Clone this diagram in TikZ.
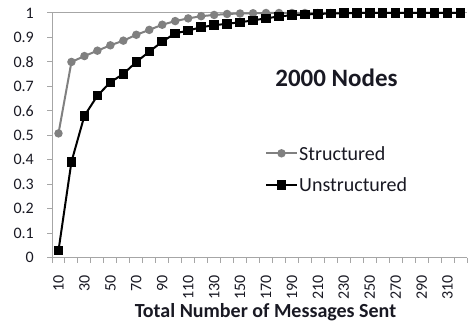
\documentclass[tikz,border=0pt]{standalone}
\usepackage{fontspec}
\setmainfont{Carlito}
\definecolor{axisgray}{RGB}{166,166,166}
\definecolor{sgray}{RGB}{128,128,128}
\definecolor{labelink}{RGB}{25,25,35}
\begin{document}
\begin{tikzpicture}[x=1pt,y=1pt,
  axisline/.style={draw=axisgray,line width=1pt},
  ticklabel/.style={font=\fontsize{16}{16}\selectfont,text=labelink,inner sep=0pt},
  legendtext/.style={font=\fontsize{20}{20}\selectfont,text=labelink,inner sep=0pt,anchor=west},
  sline/.style={draw=sgray,line width=2pt,line join=round},
  uline/.style={draw=black,line width=2pt,line join=round},
  smark/.style={fill=sgray,circle,inner sep=0pt,minimum size=8.5pt},
  umark/.style={fill=black,inner sep=0pt,minimum size=9.5pt},
]
\useasboundingbox (0,0) rectangle (468,322);
% plot area: origin, category width, height of one unit
\pgfmathsetmacro{\xo}{52}
\pgfmathsetmacro{\yo}{64.3}
\pgfmathsetmacro{\cw}{12.97}
\pgfmathsetmacro{\yu}{244.7}
\pgfmathsetmacro{\xend}{\xo+32*\cw}

% top gridline at 1
\draw[axisline] (\xo,\yo+\yu) -- (\xend,\yo+\yu);
% y axis with ticks and labels
\draw[axisline] (\xo,\yo) -- (\xo,\yo+\yu);
\foreach \k in {0,...,10} {
  \draw[axisline] (\xo-5,\yo+\k*\yu/10) -- (\xo,\yo+\k*\yu/10);
  \node[ticklabel,anchor=east] (yl\k) at (34,\yo+\k*\yu/10)
    {\ifnum\k=0 0\else\ifnum\k=10 1\else 0.\k\fi\fi};
}
% x axis with ticks and labels
\draw[axisline] (\xo,\yo) -- (\xend,\yo);
\foreach \k in {0,...,32} {
  \draw[axisline] (\xo+\k*\cw,\yo) -- (\xo+\k*\cw,\yo-5);
}
\foreach \k in {1,3,...,31} {
  \pgfmathtruncatemacro{\lab}{10*\k}
  \node[ticklabel,rotate=90,anchor=east] (xl\k) at (\xo+\k*\cw-0.5*\cw,47) {\lab};
}
\node[font=\bfseries\fontsize{20}{20}\selectfont,text=labelink,inner sep=0pt] (xtitle) at (265.5,10) {Total Number of Messages Sent};

% Structured series
\foreach \v [count=\i] in {0.508,0.800,0.824,0.846,0.868,0.887,0.911,0.931,0.952,0.967,
  0.978,0.987,0.992,0.996,0.998,0.999,1,1,1,1,1,1,1,1,1,1,1,1,1,1,1,1} {
  \coordinate (s\i) at ({\xo+(\i-0.5)*\cw},{\yo+\v*\yu});
}
\draw[sline] (s1) \foreach \i in {2,...,32} { -- (s\i) };
\foreach \i in {1,...,32} { \node[smark] (sm\i) at (s\i) {}; }

% Unstructured series
\foreach \v [count=\i] in {0.029,0.392,0.580,0.662,0.717,0.751,0.800,0.842,0.883,0.917,
  0.928,0.942,0.950,0.956,0.962,0.970,0.978,0.986,0.991,0.994,0.996,0.998,0.999,1,
  1,1,1,1,1,1,1,1} {
  \coordinate (u\i) at ({\xo+(\i-0.5)*\cw},{\yo+\v*\yu});
}
\draw[uline] (u1) \foreach \i in {2,...,32} { -- (u\i) };
\foreach \i in {1,...,32} { \node[umark] (um\i) at (u\i) {}; }

% title inside the plot
\node[font=\bfseries\fontsize{25}{25}\selectfont,text=labelink,inner sep=0pt] (title) at (336.5,244) {2000 Nodes};

% legend
\coordinate (la) at (266,168.7);
\coordinate (lb) at (297,168.7);
\draw[sline] (la) -- (lb);
\node[smark] (lsm) at (281.5,168.7) {};
\node[legendtext] (ls) at (299,168.7) {Structured};
\coordinate (lc) at (266,137);
\coordinate (ld) at (297,137);
\draw[uline] (lc) -- (ld);
\node[umark] (lum) at (281.5,137) {};
\node[legendtext] (lu) at (299,137) {Unstructured};
\end{tikzpicture}
\end{document}
